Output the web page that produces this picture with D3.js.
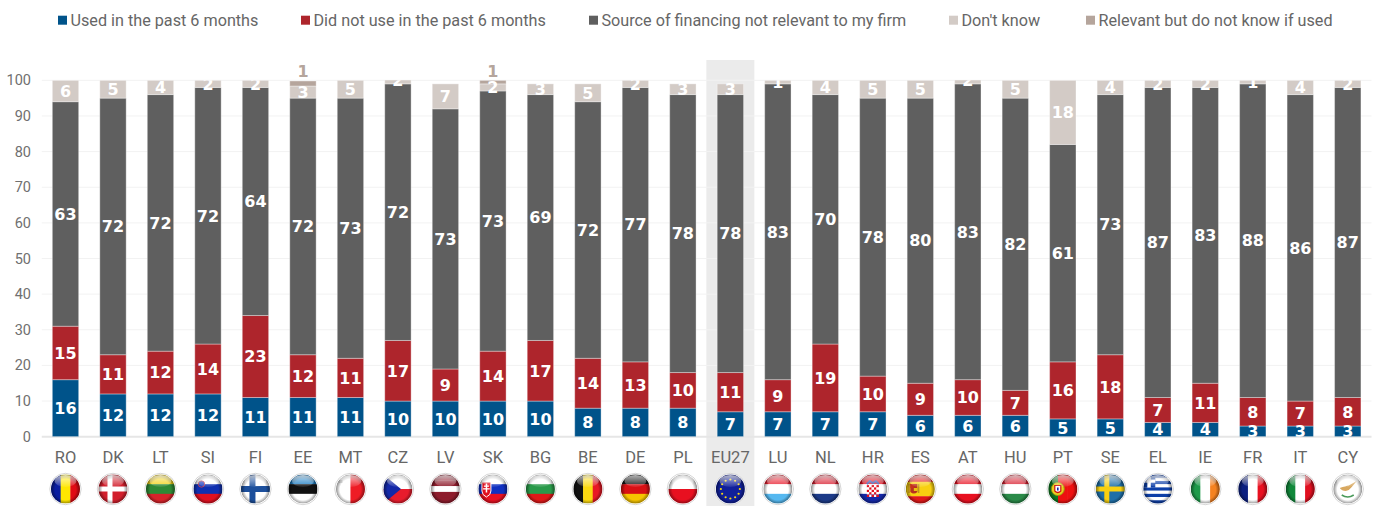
<!DOCTYPE html>
<html><head><meta charset="utf-8">
<script src="https://cdn.jsdelivr.net/npm/d3@7/dist/d3.min.js"></script>
<style>html,body{margin:0;padding:0;background:#fff}svg{display:block}</style>
</head><body><svg id="c" width="1376" height="506"></svg>
<script>
const categories=["RO","DK","LT","SI","FI","EE","MT","CZ","LV","SK","BG","BE","DE","PL","EU27","LU","NL","HR","ES","AT","HU","PT","SE","EL","IE","FR","IT","CY"];
const used=[16,12,12,12,11,11,11,10,10,10,10,8,8,8,7,7,7,7,6,6,6,5,5,4,4,3,3,3];
const notUsed=[15,11,12,14,23,12,11,17,9,14,17,14,13,10,11,9,19,10,9,10,7,16,18,7,11,8,7,8];
const notRelevant=[63,72,72,72,64,72,73,72,73,73,69,72,77,78,78,83,70,78,80,83,82,61,73,87,83,88,86,87];
const dontKnow=[6,5,4,2,2,3.4,5,2,7,2,3,5,2,3,3,1,4,5,5,2,5,18,4,2,2,1,4,2];
const relevantUnknown=[0,0,0,0,0,1.4,0,0,0,1,0,0,0,0,0,0,0,0,0,0,0,0,0,0,0,0,0,0];
const seriesNames=["Used in the past 6 months","Did not use in the past 6 months","Source of financing not relevant to my firm","Don't know","Relevant but do not know if used"];
const seriesColors=["#00538a","#ae252c","#5f5f5f","#d3cbc6","#b5a59c"];
const legendX=[58,301,589,949,1086];
const yTicks=[0,10,20,30,40,50,60,70,80,90,100];
const fontText="Roboto,sans-serif";
const fontLabel="'DejaVu Sans',sans-serif";
const series=[used,notUsed,notRelevant,dontKnow,relevantUnknown];
const svg=d3.select("#c");
const x=d3.scaleBand().domain(categories).range([41.75,1371.5]).paddingInner(.445).paddingOuter(.2225);
const y=d3.scaleLinear().domain([0,100]).range([436.7,80.3]);
const cx=d=>x(d)+x.bandwidth()/2;
const defs=svg.append("defs");
defs.append("clipPath").attr("id","plot").append("rect").attr("x",0).attr("width",1376).attr("y",y(100)).attr("height",y(0)-y(100));
svg.append("rect").attr("x",cx("EU27")-24).attr("width",48).attr("y",60).attr("height",446).attr("fill","#ebebeb");
svg.append("g").selectAll("line").data(yTicks).join("line").attr("x1",41.75).attr("x2",1371.5).attr("y1",d=>y(d)).attr("y2",d=>y(d)).attr("stroke",d=>d===0?"#e6e6e6":"#f2f2f2").attr("stroke-width",d=>d===0?2:1);
svg.append("g").selectAll("text").data(yTicks).join("text").attr("x",31).attr("y",d=>y(d)+5).attr("text-anchor","end").attr("font-family",fontText).attr("font-size",14.5).attr("fill","#707070").text(d=>d);
const stack=d3.stack().keys(d3.range(5)).value((d,k)=>series[k][d]);
const stacked=stack(d3.range(categories.length));
const plot=svg.append("g").attr("clip-path","url(#plot)");
stacked.forEach((s,k)=>{
 plot.append("g").selectAll("rect").data(s.filter(d=>series[k][d.data]>0)).join("rect")
 .attr("x",d=>x(categories[d.data])).attr("width",x.bandwidth())
 .attr("y",d=>y(d[1])).attr("height",d=>y(d[0])-y(d[1]))
 .attr("fill",seriesColors[k]).attr("stroke","#fff").attr("stroke-opacity",.35).attr("stroke-width",1);
});
stacked.slice(0,4).forEach((s,k)=>{
 plot.append("g").selectAll("text").data(s.filter(d=>series[k][d.data]>0)).join("text")
 .attr("x",d=>cx(categories[d.data])).attr("y",d=>y((d[0]+d[1])/2)+5.8)
 .attr("text-anchor","middle").attr("font-family",fontLabel).attr("font-weight","bold").attr("font-size",16).attr("fill","#fff").text(d=>Math.floor(series[k][d.data]));
});
svg.append("g").selectAll("text").data(stacked[4].filter(d=>series[4][d.data]>0)).join("text")
 .attr("x",d=>cx(categories[d.data])).attr("y",y(100)-3)
 .attr("text-anchor","middle").attr("font-family",fontLabel).attr("font-weight","bold").attr("font-size",16).attr("fill",seriesColors[4]).text(d=>Math.floor(series[4][d.data]));
svg.append("g").selectAll("text").data(categories).join("text").attr("x",cx).attr("y",463).attr("text-anchor","middle").attr("font-family",fontText).attr("font-size",16.5).attr("fill","#666").text(d=>d);
const lg=svg.append("g").selectAll("g").data(seriesNames).join("g").attr("transform",(d,i)=>`translate(${legendX[i]},0)`);
lg.append("rect").attr("y",15.7).attr("width",9).attr("height",9).attr("fill",(d,i)=>seriesColors[i]);
lg.append("text").attr("x",12.5).attr("y",26).attr("font-family",fontText).attr("font-size",16.2).attr("fill","#666").text(d=>d);

// flags: simple stripes plus small emblems
const stripesH={LT:["#f2d21a","#2f8a35","#d8232a"],SI:["#fff","#1030b0","#e01020"],EE:["#1f7fc4","#111","#fff"],LV:["#8e1c2c","#8e1c2c","#fff","#8e1c2c","#8e1c2c"],SK:["#fff","#1030c0","#e81020"],BG:["#fff","#2a9a4a","#e01818"],DE:["#111","#d80f14","#f6c400"],PL:["#fff","#e81020"],LU:["#e82030","#fff","#55b8f0"],NL:["#d81f30","#fff","#1c3a88"],HR:["#e01020","#fff","#1428a8"],ES:["#e01818","#f8d010","#f8d010","#e01818"],AT:["#e81020","#fff","#e81020"],HU:["#d82030","#fff","#2a8a48"],EL:["#0d3fa8","#fff","#0d3fa8","#fff","#0d3fa8","#fff","#0d3fa8","#fff","#0d3fa8"]};
const stripesV={RO:["#0a1ea0","#ffe600","#e00a14"],BE:["#111","#fbd810","#e81824"],IE:["#1e9a4a","#fff","#f58220"],FR:["#0a1e80","#fff","#e81020"],IT:["#10883a","#fff","#e01020"],MT:["#fff","#ee1c25"],PT:["#0e7a20","#ee1010","#ee1010"]};
const solid={DK:"#d21f2c",FI:"#fff",SE:"#1e6fa8",EU:"#10209a",CZ:"#fff",CY:"#fff"};
const R=14.5;
const gloss=defs.append("radialGradient").attr("id","edge").attr("cx","50%").attr("cy","52%").attr("r","50%");
[[0,0],[.72,0],[1,.45]].forEach(s=>gloss.append("stop").attr("offset",s[0]).attr("stop-color","#000").attr("stop-opacity",s[1]));
const shine=defs.append("linearGradient").attr("id","shine").attr("x1",0).attr("x2",0).attr("y1",0).attr("y2",1);
[[0,.7],[1,.08]].forEach(s=>shine.append("stop").attr("offset",s[0]).attr("stop-color","#fff").attr("stop-opacity",s[1]));
defs.append("clipPath").attr("id","disc").append("circle").attr("r",R);
function rect(g,a,b,w,h,f){g.append("rect").attr("x",a).attr("y",b).attr("width",w).attr("height",h).attr("fill",f)}
const emblems={
 DK:g=>{rect(g,-R,-2.5,2*R,5,"#fff");rect(g,-5.5,-R,5,2*R,"#fff")},
 FI:g=>{rect(g,-R,-3,2*R,6,"#1c4f9c");rect(g,-6,-R,6,2*R,"#1c4f9c")},
 SE:g=>{rect(g,-R,-2.5,2*R,5,"#f8d010");rect(g,-6,-R,5,2*R,"#f8d010")},
 CZ:g=>{rect(g,-R,0,2*R,R,"#e81c2c");g.append("path").attr("d",`M${-R},${-R}L3,0L${-R},${R}Z`).attr("fill","#1428a8")},
 SI:g=>{g.append("circle").attr("cx",-6.5).attr("cy",-5).attr("r",3.2).attr("fill","#2040c0").attr("stroke","#e04040").attr("stroke-width",.8)},
 SK:g=>{g.append("path").attr("d","M-11,-7H-2V2Q-2,6,-6.5,8Q-11,6,-11,2Z").attr("fill","#e01020").attr("stroke","#fff");rect(g,-7.2,-5.5,1.5,9,"#fff");rect(g,-9,-3.5,5,1.3,"#fff");rect(g,-9.8,-.8,6.6,1.3,"#fff")},
 HR:g=>{const n=5,s=2.4;for(let i=0;i<n;i++)for(let j=0;j<n;j++)rect(g,-6+i*s,-4+j*s,s,s,(i+j)%2?"#fff":"#e01020");g.append("path").attr("d","M-6,-5L-3,-8L0,-6L3,-8L6,-5").attr("fill","none").attr("stroke","#3050b0").attr("stroke-width",2)},
 ES:g=>{g.append("path").attr("d","M-10,-5H-3V3Q-6.5,6,-10,3Z").attr("fill","#b83020");rect(g,-10,-5,3.5,4,"#c83018");rect(g,-6.5,-1,3.5,3,"#e8c010");rect(g,-12,-5,1.5,9,"#c09020");rect(g,-2.5,-5,1.5,9,"#c09020")},
 PT:g=>{g.append("circle").attr("cx",-5).attr("r",6.5).attr("fill","#e8d020").attr("stroke","#a09010");g.append("path").attr("d","M-8,-3.5H-2V2Q-5,5,-8,2Z").attr("fill","#fff").attr("stroke","#d01010").attr("stroke-width",1.2);rect(g,-5.8,-1.5,1.6,3,"#1428a8")},
 EL:g=>{rect(g,-R,-R,12,13,"#0d3fa8");rect(g,-10.5,-R,3.5,13,"#fff");rect(g,-R,-9.5,12,3.2,"#fff")},
 EU:g=>{d3.range(12).forEach(i=>{const a=i*Math.PI/6;g.append("circle").attr("cx",9.5*Math.sin(a)).attr("cy",-9.5*Math.cos(a)).attr("r",1.1).attr("fill","#f6d810")})},
 CY:g=>{g.append("path").attr("d","M-8,-1Q-2,-3,1,-3.5L9,-8L4,-2Q2,1,-2,2Q-6,2,-8,-1Z").attr("fill","#d8a860");g.append("path").attr("d","M-6,6Q0,10,6,6").attr("fill","none").attr("stroke","#4a9a5a").attr("stroke-width",1.6)},
 MT:g=>{rect(g,-11,-9,3,3,"#c8c8c8")}
};
const flagKey=c=>c==="EU27"?"EU":c;
const fg=svg.append("g").selectAll("g").data(categories).join("g").attr("transform",d=>`translate(${cx(d)},489)`);
fg.each(function(c){
 const k=flagKey(c),g=d3.select(this);
 g.append("circle").attr("r",R+1.2).attr("fill","#fff").attr("stroke","#bbb").attr("stroke-width",.6);
 const f=g.append("g").attr("clip-path","url(#disc)");
 if(stripesH[k]){const a=stripesH[k],h=2*R/a.length;a.forEach((col,i)=>rect(f,-R,-R+i*h,2*R,h+.3,col))}
 else if(stripesV[k]){const a=stripesV[k],w=2*R/a.length;a.forEach((col,i)=>rect(f,-R+i*w,-R,w+.3,2*R,col))}
 else rect(f,-R,-R,2*R,2*R,solid[k]);
 if(emblems[k])emblems[k](f);
 f.append("circle").attr("r",R).attr("fill","url(#edge)");
 f.append("ellipse").attr("cy",-8).attr("rx",11).attr("ry",6).attr("fill","url(#shine)");
});
</script></body></html>
